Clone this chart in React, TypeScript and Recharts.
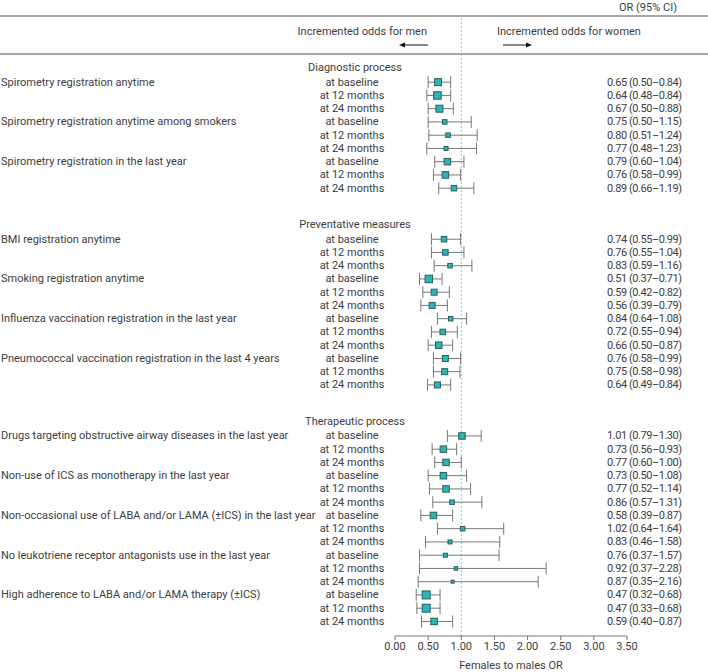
import React from 'react';
import { ComposedChart, Scatter, XAxis, YAxis, ErrorBar, ReferenceLine } from 'recharts';

const sections = ['Diagnostic process', 'Preventative measures', 'Therapeutic process'];
const outcomes = [
  'Spirometry registration anytime',
  'Spirometry registration anytime among smokers',
  'Spirometry registration in the last year',
  'BMI registration anytime',
  'Smoking registration anytime',
  'Influenza vaccination registration in the last year',
  'Pneumococcal vaccination registration in the last 4 years',
  'Drugs targeting obstructive airway diseases in the last year',
  'Non-use of ICS as monotherapy in the last year',
  'Non-occasional use of LABA and/or LAMA (±ICS) in the last year',
  'No leukotriene receptor antagonists use in the last year',
  'High adherence to LABA and/or LAMA therapy (±ICS)',
];
const outcomeSection = [0, 0, 0, 1, 1, 1, 1, 2, 2, 2, 2, 2];
const timepoints = ['at baseline', 'at 12 months', 'at 24 months'];
const oddsRatio = [
  [0.65, 0.64, 0.67], [0.75, 0.8, 0.77], [0.79, 0.76, 0.89],
  [0.74, 0.76, 0.83], [0.51, 0.59, 0.56], [0.84, 0.72, 0.66], [0.76, 0.75, 0.64],
  [1.01, 0.73, 0.77], [0.73, 0.77, 0.86], [0.58, 1.02, 0.83], [0.76, 0.92, 0.87], [0.47, 0.47, 0.59],
];
const ciLow = [
  [0.5, 0.48, 0.5], [0.5, 0.51, 0.48], [0.6, 0.58, 0.66],
  [0.55, 0.55, 0.59], [0.37, 0.42, 0.39], [0.64, 0.55, 0.5], [0.58, 0.58, 0.49],
  [0.79, 0.56, 0.6], [0.5, 0.52, 0.57], [0.39, 0.64, 0.46], [0.37, 0.37, 0.35], [0.32, 0.33, 0.4],
];
const ciHigh = [
  [0.84, 0.84, 0.88], [1.15, 1.24, 1.23], [1.04, 0.99, 1.19],
  [0.99, 1.04, 1.16], [0.71, 0.82, 0.79], [1.08, 0.94, 0.87], [0.99, 0.98, 0.84],
  [1.3, 0.93, 1.0], [1.08, 1.14, 1.31], [0.87, 1.64, 1.58], [1.57, 2.28, 2.16], [0.68, 0.68, 0.87],
];
// relative study weights (box size)
const weights = [
  [7, 7.5, 7], [4.5, 4.5, 4], [6.5, 6.5, 5.5],
  [5.5, 5.5, 4.5], [7.5, 6, 6], [4.5, 5.5, 6.5], [6, 6, 6],
  [6.5, 6.5, 6.5], [6.5, 6.5, 4.5], [6.5, 4.5, 4], [4, 3.5, 3], [8, 8, 6.5],
];
const xTicks = [0, 0.5, 1, 1.5, 2, 2.5, 3, 3.5];

const SECTION_GAP = 1.85;
const FONT = 'Roboto, sans-serif';
const FS = 11;
const TEXT = '#3d3d3d';

type Row = { pos: number; header?: string; name?: string; sub?: string; label?: string };
const rows: Row[] = [];
const points: any[] = [];
let pos = 0;
sections.forEach((title, s) => {
  rows.push({ pos, header: title });
  pos += 1;
  outcomes.forEach((name, o) => {
    if (outcomeSection[o] !== s) return;
    timepoints.forEach((tp, t) => {
      const or = oddsRatio[o][t];
      const lo = ciLow[o][t];
      const hi = ciHigh[o][t];
      const label = `${or.toFixed(2)} (${lo.toFixed(2)}–${hi.toFixed(2)})`;
      rows.push({ pos, name: t === 0 ? name : undefined, sub: tp, label });
      points.push({ x: or, y: pos, err: [or - lo, hi - or], w: weights[o][t] });
      pos += 1;
    });
  });
  pos += SECTION_GAP;
});
const rowByKey = new Map(rows.map((r) => [r.pos.toFixed(2), r]));
const rowTicks = rows.map((r) => r.pos);

const RowTick = (props: any) => {
  const { y, payload } = props;
  const r = rowByKey.get(Number(payload.value).toFixed(2));
  if (!r) return null;
  const common = { fontFamily: FONT, fontSize: FS, fill: TEXT, dominantBaseline: 'central' as any };
  if (r.header) {
    return (
      <text x={355} y={y - 1.5} textAnchor="middle" {...common}>
        {r.header}
      </text>
    );
  }
  return (
    <g>
      {r.name && (
        <text x={1} y={y} textAnchor="start" {...common}>
          {r.name}
        </text>
      )}
      <text x={352} y={y} textAnchor="middle" {...common}>
        {r.sub}
      </text>
      <text x={607} y={y} textAnchor="start" letterSpacing={-0.45} {...common}>
        {r.label}
      </text>
    </g>
  );
};

const BoxShape = (props: any) => {
  const { cx, cy, payload } = props;
  const s = payload.w;
  return (
    <rect x={cx - s / 2} y={cy - s / 2} width={s} height={s} fill="#2bb5b8" stroke="#2a5e60" strokeWidth={1} />
  );
};

const Header = () => (
  <svg width={708} height={60} style={{ position: 'absolute', left: 0, top: 0, pointerEvents: 'none' }}>
    <line x1={0} x2={708} y1={16} y2={16} stroke="#8a8a8a" strokeWidth={1.5} />
    <line x1={0} x2={708} y1={54} y2={54} stroke="#8a8a8a" strokeWidth={1.5} />
    <text x={648} y={7} textAnchor="middle" dominantBaseline="central" fontFamily={FONT} fontSize={FS} fill={TEXT}>
      OR (95% CI)
    </text>
    <text x={427} y={31} textAnchor="end" dominantBaseline="central" fontFamily={FONT} fontSize={FS} fill={TEXT}>
      Incremented odds for men
    </text>
    <text x={497} y={31} textAnchor="start" dominantBaseline="central" fontFamily={FONT} fontSize={FS} fill={TEXT}>
      Incremented odds for women
    </text>
    <line x1={405} x2={428} y1={45} y2={45} stroke="#111" strokeWidth={1} />
    <polygon points="399,45 405,42.5 405,47.5" fill="#111" />
    <line x1={503} x2={526} y1={45} y2={45} stroke="#111" strokeWidth={1} />
    <polygon points="532,45 526,42.5 526,47.5" fill="#111" />
  </svg>
);

export default function App() {
  return (
    <div style={{ position: 'absolute', left: 0, top: 0, width: 708, height: 672, background: '#fff' }}>
      <ComposedChart width={708} height={672} margin={{ top: 17, right: 81, bottom: 0, left: 394 }}>
        <XAxis
          type="number"
          dataKey="x"
          domain={[0, 3.5]}
          ticks={xTicks}
          tickFormatter={(v: number) => v.toFixed(2)}
          allowDataOverflow
          stroke="#777"
          tickSize={4}
          tick={{ fill: TEXT, fontSize: FS, fontFamily: FONT }}
          height={36}
          label={{ value: 'Females to males OR', position: 'insideBottom', offset: 3, fill: TEXT, fontSize: FS, fontFamily: FONT }}
        />
        <YAxis
          type="number"
          dataKey="y"
          domain={[-3.92, 42.8]}
          reversed
          allowDataOverflow
          ticks={rowTicks}
          interval={0}
          width={1}
          axisLine={false}
          tickLine={false}
          tick={<RowTick />}
        />
        <ReferenceLine x={1} stroke="#5fd4e4" strokeDasharray="2 2" strokeWidth={1} />
        <Scatter data={points} dataKey="y" shape={<BoxShape />} isAnimationActive={false}>
          <ErrorBar dataKey="err" direction="x" width={6} stroke="#777" strokeWidth={1} />
        </Scatter>
      </ComposedChart>
      <Header />
    </div>
  );
}
